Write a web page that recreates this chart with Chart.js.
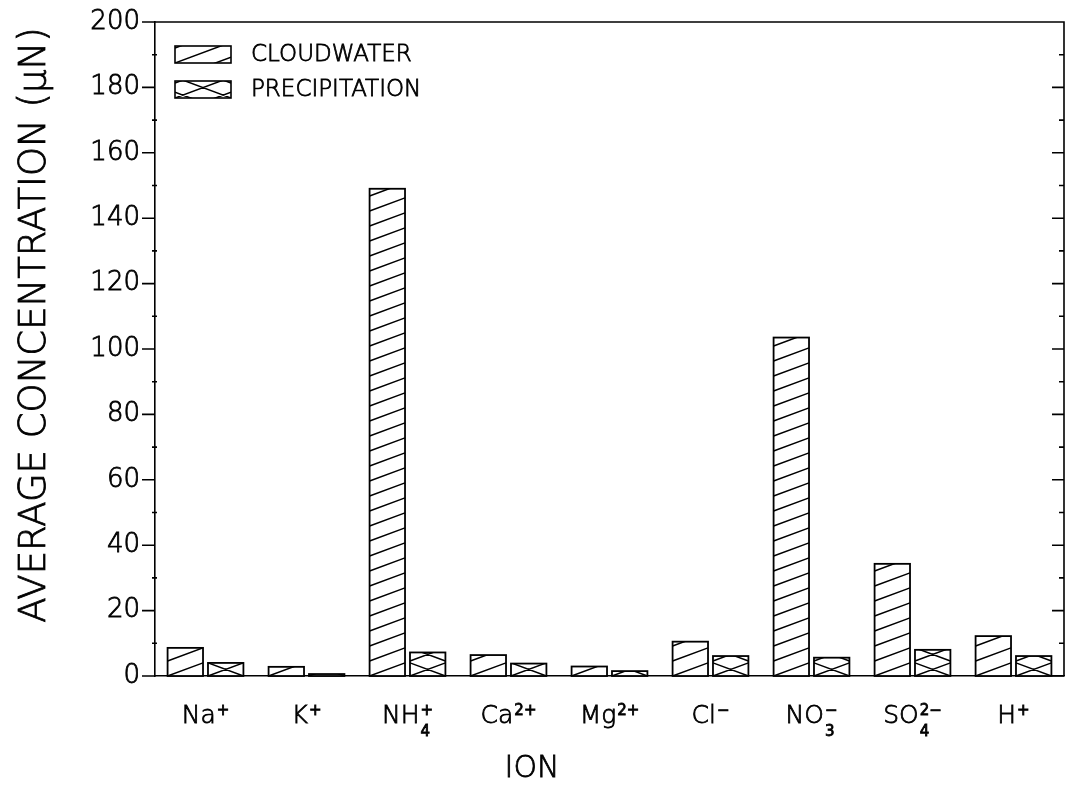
<!DOCTYPE html>
<html>
<head>
<meta charset="utf-8">
<script src="https://cdn.jsdelivr.net/npm/chart.js@4.4.1/dist/chart.umd.min.js"></script>
<style>
  html, body { margin: 0; padding: 0; background: #fff; }
  #wrap { width: 1065px; height: 792px; }
</style>
</head>
<body>
<div id="wrap"><canvas id="ionChart" width="1065" height="792"></canvas></div>
<script>
// ions on the x axis, split into base / subscript / superscript for drawing
const ions = ['Na⁺', 'K⁺', 'NH₄⁺', 'Ca²⁺', 'Mg²⁺', 'Cl⁻', 'NO₃⁻', 'SO₄²⁻', 'H⁺'];
const ionBase = ['Na', 'K', 'NH', 'Ca', 'Mg', 'Cl', 'NO', 'SO', 'H'];
const ionSub = ['', '', '4', '', '', '', '3', '4', ''];
const ionSup = ['+', '+', '+', '2+', '2+', '−', '−', '2−', '+'];

// average concentrations, µN
const cloudwater = [8.6, 2.8, 149, 6.4, 2.9, 10.5, 103.5, 34.3, 12.2];
const precipitation = [4.0, 0.6, 7.2, 3.8, 1.5, 6.1, 5.6, 8.0, 6.1];

const yTicks = [0, 20, 40, 60, 80, 100, 120, 140, 160, 180, 200];

const FONT = '"DejaVu Sans", sans-serif';
const W = '300 ';          // light weight for all text
const TEXT_STROKE = 0.8;   // thickens the light face a little
const HATCH_GAP = 15;      // vertical distance between hatch lines
const HATCH_SLOPE = 13 / 35;

function text(ctx, s, x, y) {
  ctx.fillText(s, x, y);
  ctx.lineWidth = TEXT_STROKE;
  ctx.strokeText(s, x, y);
}

// diagonal hatching anchored at the bottom of a box
function hatch(ctx, x, y, w, h, cross) {
  ctx.save();
  ctx.beginPath();
  ctx.rect(x, y, w, h);
  ctx.clip();
  ctx.beginPath();
  const rise = w * HATCH_SLOPE;
  const bottom = y + h;
  for (let k = -2; k * HATCH_GAP < h + rise + HATCH_GAP; k++) {
    const yl = bottom - k * HATCH_GAP;
    ctx.moveTo(x, yl);
    ctx.lineTo(x + w, yl - rise);
    if (cross) {
      ctx.moveTo(x, yl - rise);
      ctx.lineTo(x + w, yl);
    }
  }
  ctx.lineWidth = 1.5;
  ctx.strokeStyle = '#000';
  ctx.stroke();
  ctx.restore();
}

const hatchBars = {
  id: 'hatchBars',
  afterDatasetsDraw(chart) {
    const ctx = chart.ctx;
    chart.data.datasets.forEach((ds, di) => {
      chart.getDatasetMeta(di).data.forEach(bar => {
        const { x, y, base, width } = bar.getProps(['x', 'y', 'base', 'width'], true);
        const left = x - width / 2;
        hatch(ctx, left, y, width, base - y, di === 1);
        ctx.save();
        ctx.strokeStyle = '#000';
        ctx.lineWidth = 1.8;
        ctx.strokeRect(left, y, width, base - y);
        ctx.restore();
      });
    });
  }
};

const frame = {
  id: 'frame',
  afterDraw(chart) {
    const ctx = chart.ctx;
    const { left, right, top, bottom } = chart.chartArea;
    const y = chart.scales.y;
    ctx.save();
    ctx.strokeStyle = '#000';
    ctx.lineWidth = 1.6;
    ctx.beginPath();
    // top and right border
    ctx.moveTo(left, top);
    ctx.lineTo(right, top);
    ctx.lineTo(right, bottom);
    // ticks every 10, long ones at the labelled values
    for (let v = y.min; v <= y.max; v += 10) {
      const py = y.getPixelForValue(v);
      const major = v % 20 === 0;
      if (major) {
        ctx.moveTo(left - 13, py);
        ctx.lineTo(left, py);
      } else {
        ctx.moveTo(left - 3, py);
        ctx.lineTo(left + 2, py);
      }
      ctx.moveTo(right, py);
      ctx.lineTo(right - (major ? 12 : 5), py);
    }
    ctx.stroke();

    // ion labels with stacked sub/superscripts
    const xs = chart.scales.x;
    const baseY = bottom + 47;
    ctx.fillStyle = '#000';
    ions.forEach((_, i) => {
      const cx = xs.getPixelForValue(i);
      ctx.font = W + '25px ' + FONT;
      const bw = ctx.measureText(ionBase[i]).width;
      ctx.font = '15px ' + FONT;
      const sw = Math.max(ctx.measureText(ionSup[i]).width, ctx.measureText(ionSub[i]).width);
      const x0 = cx - (bw + sw + 1) / 2;
      ctx.textBaseline = 'alphabetic';
      ctx.textAlign = 'left';
      ctx.font = W + '25px ' + FONT;
      text(ctx, ionBase[i], x0, baseY);
      ctx.font = '15px ' + FONT;
      text(ctx, ionSup[i], x0 + bw + 1, baseY - 8);
      if (ionSub[i]) text(ctx, ionSub[i], x0 + bw + 1, baseY + 13);
    });

    // axis titles
    ctx.font = W + '30px ' + FONT;
    ctx.textAlign = 'center';
    ctx.textBaseline = 'middle';
    text(ctx, 'ION', 532, 769);
    ctx.save();
    ctx.translate(35, 325);
    ctx.rotate(-Math.PI / 2);
    ctx.font = W + '37px ' + FONT;
    text(ctx, 'AVERAGE CONCENTRATION (μN)', 0, 0);
    ctx.restore();

    // legend
    ctx.font = W + '23px ' + FONT;
    ctx.textAlign = 'left';
    chart.data.datasets.forEach((ds, di) => {
      const bx = left + 20, by = top + 24 + di * 35;
      hatch(ctx, bx, by, 56, 17, di === 1);
      ctx.lineWidth = 1.6;
      ctx.strokeRect(bx, by, 56, 17);
      text(ctx, ds.label, bx + 76, by + 9);
    });
    ctx.restore();
  }
};

new Chart(document.getElementById('ionChart'), {
  type: 'bar',
  data: {
    labels: ions,
    datasets: [
      { label: 'CLOUDWATER', data: cloudwater },
      { label: 'PRECIPITATION', data: precipitation }
    ].map(ds => ({
      ...ds,
      backgroundColor: '#fff',
      borderWidth: 0,
      categoryPercentage: 0.8,
      barPercentage: 0.877
    }))
  },
  options: {
    responsive: false,
    animation: false,
    layout: { padding: { top: 22, right: 1 } },
    plugins: { legend: { display: false }, tooltip: { enabled: false } },
    scales: {
      x: {
        grid: { display: false },
        border: { color: '#000', width: 1.6 },
        ticks: { display: false },
        afterFit: s => { s.height = 116; }
      },
      y: {
        min: 0,
        max: 200,
        afterBuildTicks: s => { s.ticks = yTicks.map(v => ({ value: v })); },
        grid: { display: false, drawTicks: false },
        border: { color: '#000', width: 1.6 },
        ticks: {
          color: '#000',
          padding: 15,
          textStrokeColor: '#000',
          textStrokeWidth: TEXT_STROKE,
          font: { family: FONT, size: 26, weight: 300 }
        },
        afterFit: s => { s.width = 155; s.paddingTop = 0; s.paddingBottom = 0; }
      }
    }
  },
  plugins: [hatchBars, frame]
});
</script>
</body>
</html>
